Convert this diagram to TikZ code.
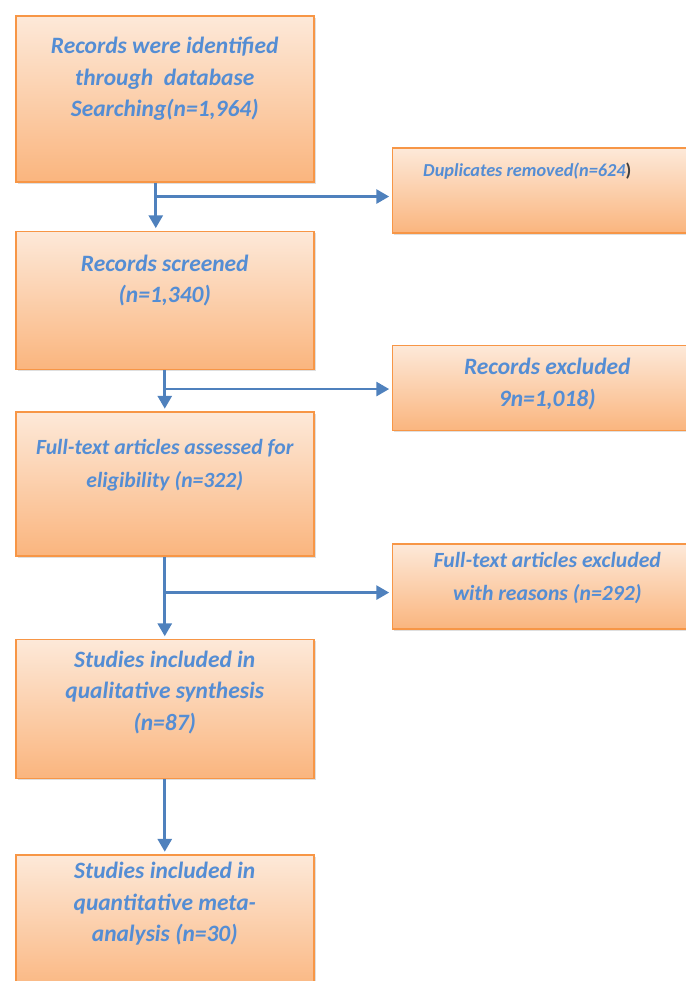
\documentclass[tikz,border=0pt]{standalone}
\usepackage{fontspec}
\setmainfont{Carlito}
\usetikzlibrary{positioning,calc,shadows,arrows.meta}

\definecolor{boxedge}{RGB}{247,150,70}
\definecolor{boxtop}{RGB}{253,233,217}
\definecolor{boxbottom}{RGB}{250,181,126}
\definecolor{txtblue}{RGB}{84,141,212}
\definecolor{arrblue}{RGB}{79,129,189}

\tikzset{
  stage/.style={draw=boxedge, line width=1.3pt, top color=boxtop, bottom color=boxbottom,
    minimum width=8.94cm, drop shadow={shadow xshift=1.5pt, shadow yshift=-1.5pt, opacity=0.25}},
  sidestage/.style={stage, minimum width=9.3cm, minimum height=2.55cm},
  bigtxt/.style={text=txtblue, font=\bfseries\itshape\fontsize{20}{27}\selectfont, align=center, anchor=north},
  smalltxt/.style={bigtxt, font=\bfseries\itshape\fontsize{18.5}{28}\selectfont}
  ,flow/.style={draw=arrblue, line width=2.3pt, -{Triangle[width=12pt,length=11pt]}, shorten >=2pt}
}

\begin{document}
\begin{tikzpicture}
    \useasboundingbox (0,0) rectangle (20.58,-29.43);
    \node [stage, minimum height=4.98cm, anchor=north west] (ident) at (0.45,-0.45) {};
    \node [stage, minimum height=4.14cm, below=1.44cm of ident] (screen) {};
    \node [stage, minimum height=4.32cm, below=1.23cm of screen] (assess) {};
    \node [stage, minimum height=4.17cm, below=2.46cm of assess] (qual) {};
    \node [stage, minimum height=4.2cm, below=2.25cm of qual] (quant) {};
    \node [sidestage, right=2.31cm of ident.south east, yshift=-0.24cm] (dup) {};
    \node [sidestage, right=2.31cm of screen.south east, yshift=-0.54cm] (recex) {};
    \node [sidestage, right=2.31cm of assess.south east, yshift=-0.9cm] (ftex) {};

    \node [bigtxt, below=0.54cm of ident.north] (identtxt) {Records were identified\\through\ \ database\\Searching(n=1,964)};
    \node [bigtxt, below=0.6cm of screen.north] (screentxt) {Records screened\\(n=1,340)};
    \node [smalltxt, below=0.72cm of assess.north] (assesstxt) {Full-text articles assessed for\\eligibility (n=322)};
    \node [bigtxt, below=0.24cm of qual.north] (qualtxt) {Studies included in\\qualitative synthesis\\(n=87)};
    \node [bigtxt, below=0.12cm of quant.north] (quanttxt) {Studies included in\\quantitative meta-\\analysis (n=30)};
    \node [smalltxt, font=\bfseries\itshape\fontsize{15.6}{28}\selectfont, below=0.35cm of dup.north, xshift=-0.6cm] (duptxt) {Duplicates removed(n=624{\color{black!75}\upshape)}};
    \node [bigtxt, below=0.27cm of recex.north] (recextxt) {Records excluded\\9n=1,018)};
    \node [smalltxt, below=0.15cm of ftex.north] (ftextxt) {Full-text articles excluded\\with reasons (n=292)};

    \coordinate (j1) at ($(ident.south)+(-0.27,-0.42)$);
    \coordinate (j2) at ($(screen.south)+(0,-0.57)$);
    \coordinate (j3) at ($(assess.south)+(0,-1.08)$);
    \draw [flow] (ident.south -| j1) -- (screen.north -| j1);
    \draw [flow] (j1) -- (dup.west |- j1);
    \draw [flow] (screen) -- (assess);
    \draw [flow] (j2) -- (recex.west |- j2);
    \draw [flow] (assess) -- (qual);
    \draw [flow] (j3) -- (ftex.west |- j3);
    \draw [flow] (qual) -- (quant);
\end{tikzpicture}
\end{document}
